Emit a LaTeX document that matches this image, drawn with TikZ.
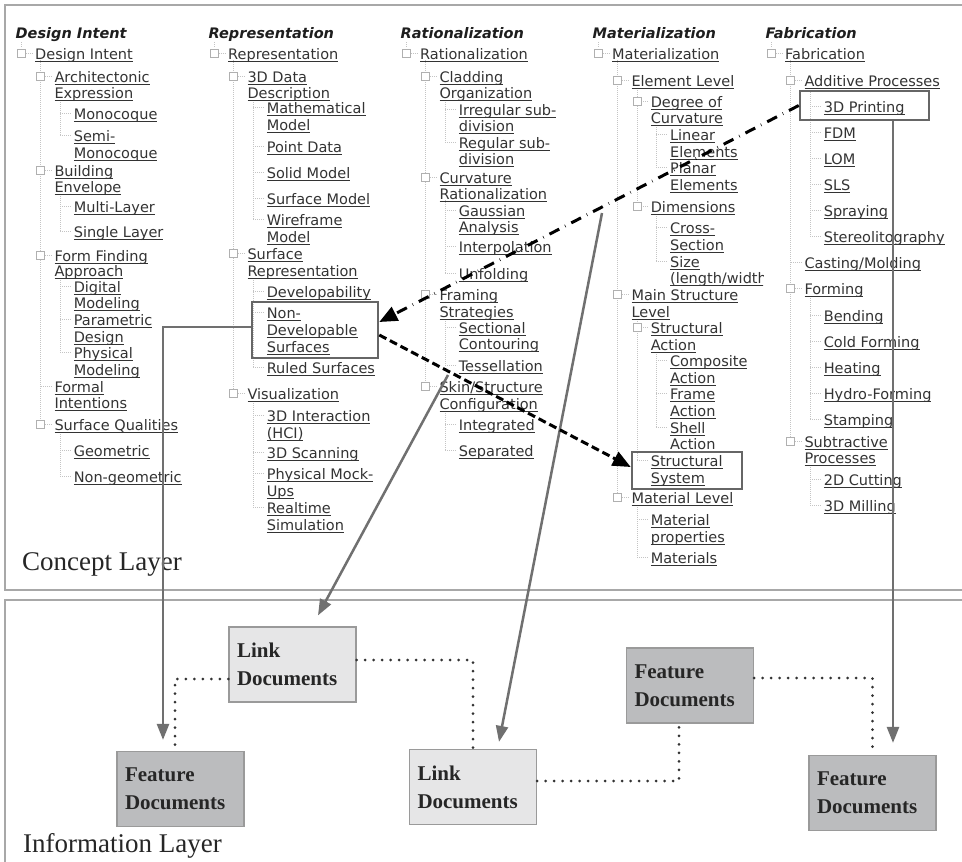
\documentclass[tikz,border=0pt]{standalone}
\usepackage{fontspec}
\setmainfont{Liberation Serif}
\newfontfamily\treefont{DejaVu Sans}
\usetikzlibrary{arrows.meta}

\definecolor{linkgray}{HTML}{333333}
\definecolor{headgray}{HTML}{1E1E1E}
\definecolor{treegray}{HTML}{C4C4C4}
\definecolor{framegray}{HTML}{A8A8A8}
\definecolor{markgray}{HTML}{666666}
\definecolor{arrowgray}{HTML}{707070}
\definecolor{linkfill}{HTML}{E6E6E7}
\definecolor{featfill}{HTML}{BBBCBE}
\definecolor{docborder}{HTML}{9A9A9A}
\definecolor{dotgray}{HTML}{333333}

% underlined link text, rule at a fixed depth below the baseline
\newcommand\ulk[1]{\setbox0=\hbox{#1}\rlap{\rule[-3pt]{\wd0}{1pt}}\box0}

% tree helpers: column base x and column name
\newcommand\colbase{35}
\newcommand\colname{a}
% item with a folder icon: level, y, text
\newcommand\trI[3]{%
  \pgfmathsetmacro\trX{\colbase+19.3*#1}%
  \pgfmathsetmacro\trIX{\trX-13.5}%
  \draw[treeline] (\trIX,#2-1) -- (\trX-1.5,#2-1);
  \node[iconbox] (\colname-i#2) at (\trIX,#2-1) {};
  \node[linktext] (\colname-#2) at (\trX,#2+5) {\ulk{#3}};}
% leaf item with a tick only
\newcommand\trT[3]{%
  \pgfmathsetmacro\trX{\colbase+19.3*#1}%
  \pgfmathsetmacro\trIX{\trX-13.5}%
  \draw[treeline] (\trIX,#2-1) -- (\trX-1.5,#2-1);
  \node[linktext] (\colname-#2) at (\trX,#2+5) {\ulk{#3}};}
% continuation line of a wrapped item
\newcommand\trC[3]{%
  \pgfmathsetmacro\trX{\colbase+19.3*#1}%
  \node[linktext] (\colname-#2) at (\trX,#2+5) {\ulk{#3}};}
% vertical guide for the children of a level
\newcommand\trV[3]{%
  \pgfmathsetmacro\trVX{\colbase+19.3*#1-13.5}%
  \draw[treeline] (\trVX,#2) -- (\trVX,#3);}
% column heading
\newcommand\trH[1]{%
  \node[headtext] (\colname-h) at (\colbase-19.5,38) {#1};
  \draw[treeline] (\colbase-13.5,42) -- (\colbase-13.5,48);}

\begin{document}
\begin{tikzpicture}[x=1pt,y=-1pt,
  treeline/.style={draw=treegray,line width=0.8pt,dash pattern=on 1pt off 1pt},
  iconbox/.style={draw=treegray!90!black,fill=white,line width=0.8pt,minimum size=8pt,inner sep=0pt},
  linktext/.style={anchor=base west,inner sep=0pt,text=linkgray,font=\treefont\fontsize{14.5}{16}\selectfont},
  headtext/.style={anchor=base west,inner sep=0pt,text=headgray,font=\treefont\bfseries\itshape\fontsize{14.5}{16}\selectfont},
  layerlabel/.style={anchor=base west,inner sep=0pt,text=black!85,font=\fontsize{27}{30}\selectfont},
  markbox/.style={draw=markgray,line width=2.5pt,inner sep=0pt},
  docbox/.style={draw=docborder,line width=1.2pt,minimum width=127pt,minimum height=75pt,
    text width=111pt,align=left,inner sep=8pt,text=black!85,font=\fontsize{21}{28}\selectfont\bfseries},
  linkdoc/.style={docbox,fill=linkfill},
  featdoc/.style={docbox,fill=featfill},
  dotlink/.style={draw=dotgray,line width=3pt,line cap=round,dash pattern=on 0pt off 8.5pt},
  garrow/.style={draw=arrowgray,line width=2.5pt,-{Triangle[length=16pt,width=12pt]}},
  dashdotarrow/.style={draw=black,line width=3pt,dash pattern=on 11pt off 6.5pt on 0.5pt off 6.5pt,
    -{Triangle[length=18pt,width=15pt]}},
  dasharrow/.style={draw=black,line width=3pt,dash pattern=on 8pt off 4pt,
    -{Triangle[length=18pt,width=15pt]}}]

\fill[white] (0,0) rectangle (962,862);
\useasboundingbox (0,0) rectangle (962,862);

% layer frames
\draw[framegray,line width=1.5pt] (962,5) -- (5,5) -- (5,590) -- (962,590);
\draw[framegray,line width=1.5pt] (962,600) -- (5,600) -- (5,862);

% ---------- Design Intent ----------
\renewcommand\colbase{35}\renewcommand\colname{a}
\trV{1}{60}{425}
\trV{2}{100}{136}
\trV{2}{194}{232}
\trV{2}{278}{353}
\trV{2}{432}{477}
\trH{Design Intent}
\trI{0}{54}{Design Intent}
\trI{1}{77}{Architectonic}\trC{1}{93}{Expression}
\trT{2}{114}{Monocoque}
\trT{2}{136}{Semi-}\trC{2}{153}{Monocoque}
\trI{1}{171}{Building}\trC{1}{187}{Envelope}
\trT{2}{207}{Multi-Layer}
\trT{2}{232}{Single Layer}
\trI{1}{256}{Form Finding}\trC{1}{271}{Approach}
\trT{2}{287}{Digital}\trC{2}{303}{Modeling}
\trT{2}{320}{Parametric}\trC{2}{337}{Design}
\trT{2}{353}{Physical}\trC{2}{370}{Modeling}
\trT{1}{387}{Formal}\trC{1}{403}{Intentions}
\trI{1}{425}{Surface Qualities}
\trT{2}{451}{Geometric}
\trT{2}{477}{Non-geometric}

% ---------- Representation ----------
\renewcommand\colbase{228}\renewcommand\colname{b}
\trV{1}{60}{394}
\trV{2}{100}{220}
\trV{2}{278}{368}
\trV{2}{401}{508}
\trH{Representation}
\trI{0}{54}{Representation}
\trI{1}{77}{3D Data}\trC{1}{93}{Description}
\trT{2}{108}{Mathematical}\trC{2}{125}{Model}
\trT{2}{147}{Point Data}
\trT{2}{173}{Solid Model}
\trT{2}{199}{Surface Model}
\trT{2}{220}{Wireframe}\trC{2}{237}{Model}
\trI{1}{254}{Surface}\trC{1}{271}{Representation}
\trT{2}{292}{Developability}
\trT{2}{313}{Non-}\trC{2}{330}{Developable}\trC{2}{347}{Surfaces}
\trT{2}{368}{Ruled Surfaces}
\trI{1}{394}{Visualization}
\trT{2}{416}{3D Interaction}\trC{2}{433}{(HCI)}
\trT{2}{453}{3D Scanning}
\trT{2}{474}{Physical Mock-}\trC{2}{491}{Ups}
\trT{2}{508}{Realtime}\trC{2}{525}{Simulation}

% ---------- Rationalization ----------
\renewcommand\colbase{420}\renewcommand\colname{c}
\trV{1}{60}{387}
\trV{2}{100}{143}
\trV{2}{200}{274}
\trV{2}{319}{366}
\trV{2}{411}{451}
\trH{Rationalization}
\trI{0}{54}{Rationalization}
\trI{1}{77}{Cladding}\trC{1}{93}{Organization}
\trT{2}{110}{Irregular sub-}\trC{2}{126}{division}
\trT{2}{143}{Regular sub-}\trC{2}{159}{division}
\trI{1}{178}{Curvature}\trC{1}{194}{Rationalization}
\trT{2}{211}{Gaussian}\trC{2}{227}{Analysis}
\trT{2}{247}{Interpolation}
\trT{2}{274}{Unfolding}
\trI{1}{295}{Framing}\trC{1}{312}{Strategies}
\trT{2}{328}{Sectional}\trC{2}{344}{Contouring}
\trT{2}{366}{Tessellation}
\trI{1}{387}{Skin/Structure}\trC{1}{404}{Configuration}
\trT{2}{425}{Integrated}
\trT{2}{451}{Separated}

% ---------- Materialization ----------
\renewcommand\colbase{612}\renewcommand\colname{d}
\trV{1}{60}{498}
\trV{2}{88}{207}
\trV{3}{125}{168}
\trV{3}{214}{262}
\trV{2}{319}{461}
\trV{3}{352}{428}
\trV{2}{505}{558}
\trH{Materialization}
\trI{0}{54}{Materialization}
\trI{1}{81}{Element Level}
\trI{2}{102}{Degree of}\trC{2}{118}{Curvature}
\trT{3}{135}{Linear}\trC{3}{152}{Elements}
\trT{3}{168}{Planar}\trC{3}{185}{Elements}
\trI{2}{207}{Dimensions}
\trT{3}{228}{Cross-}\trC{3}{245}{Section}
\trT{3}{262}{Size}
\begin{scope}
  \clip (660,260) rectangle (763,300);
  \trC{3}{278}{(length/width}
\end{scope}
\trI{1}{295}{Main Structure}\trC{1}{312}{Level}
\trI{2}{328}{Structural}\trC{2}{345}{Action}
\trT{3}{361}{Composite}\trC{3}{378}{Action}
\trT{3}{394}{Frame}\trC{3}{411}{Action}
\trT{3}{428}{Shell}\trC{3}{444}{Action}
\trT{2}{461}{Structural}\trC{2}{478}{System}
\trI{1}{498}{Material Level}
\trT{2}{520}{Material}\trC{2}{537}{properties}
\trT{2}{558}{Materials}

% ---------- Fabrication ----------
\renewcommand\colbase{785}\renewcommand\colname{e}
\trV{1}{60}{442}
\trV{2}{88}{237}
\trV{2}{296}{420}
\trV{2}{465}{506}
\trH{Fabrication}
\trI{0}{54}{Fabrication}
\trI{1}{81}{Additive Processes}
\trT{2}{107}{3D Printing}
\trT{2}{133}{FDM}
\trT{2}{159}{LOM}
\trT{2}{185}{SLS}
\trT{2}{211}{Spraying}
\trT{2}{237}{Stereolitography}
\trT{1}{263}{Casting/Molding}
\trI{1}{289}{Forming}
\trT{2}{316}{Bending}
\trT{2}{342}{Cold Forming}
\trT{2}{368}{Heating}
\trT{2}{394}{Hydro-Forming}
\trT{2}{420}{Stamping}
\trI{1}{442}{Subtractive}\trC{1}{458}{Processes}
\trT{2}{480}{2D Cutting}
\trT{2}{506}{3D Milling}

% layer labels
\node[layerlabel] (concept) at (22,570) {Concept Layer};
\node[layerlabel] (information) at (23,852) {Information Layer};

% highlighted concepts
\node[markbox,minimum width=126pt,minimum height=56pt] (ndsbox) at (315,330) {};
\node[markbox,minimum width=110pt,minimum height=37pt] (sysbox) at (687,470.5) {};
\node[markbox,minimum width=129pt,minimum height=29pt] (ptbox) at (864.5,105.5) {};

% documents of the information layer
\node[linkdoc] (linkA) at (292.5,664.5) {Link\\Documents};
\node[featdoc] (featA) at (180.5,789) {Feature\\Documents};
\node[linkdoc] (linkB) at (473,787) {Link\\Documents};
\node[featdoc] (featB) at (690,685.5) {Feature\\Documents};
\node[featdoc] (featC) at (872.5,793) {Feature\\Documents};

% dotted links between documents
\draw[dotlink] ([yshift=-14.5pt]linkA.west) -| ([xshift=-5.5pt]featA.north);
\draw[dotlink] ([yshift=4.5pt]linkA.east) -| (linkB.north);
\draw[dotlink] ([yshift=6pt]linkB.east) -| ([xshift=-11pt]featB.south);
\draw[dotlink] ([yshift=7.5pt]featB.east) -| (featC.north);

% concept-to-document arrows
\coordinate (srcA) at (448,375);
\coordinate (srcB) at (602,213);
\draw[garrow] ([yshift=3pt]ndsbox.west) -| ([xshift=-17.5pt,yshift=11pt]featA.north);
\draw[garrow] (srcA) -- ([xshift=25.5pt,yshift=11pt]linkA.north);
\draw[garrow] (srcB) -- ([xshift=26pt,yshift=7pt]linkB.north);
\draw[garrow] ([xshift=28.5pt]ptbox.south) -- ([xshift=20.5pt,yshift=12pt]featC.north);

% relations between concepts
\draw[dashdotarrow] (ptbox.west) -- ([yshift=8pt]ndsbox.east);
\draw[dasharrow] ([yshift=-5pt]ndsbox.east) -- ([yshift=3.5pt]sysbox.west);
\end{tikzpicture}
\end{document}
